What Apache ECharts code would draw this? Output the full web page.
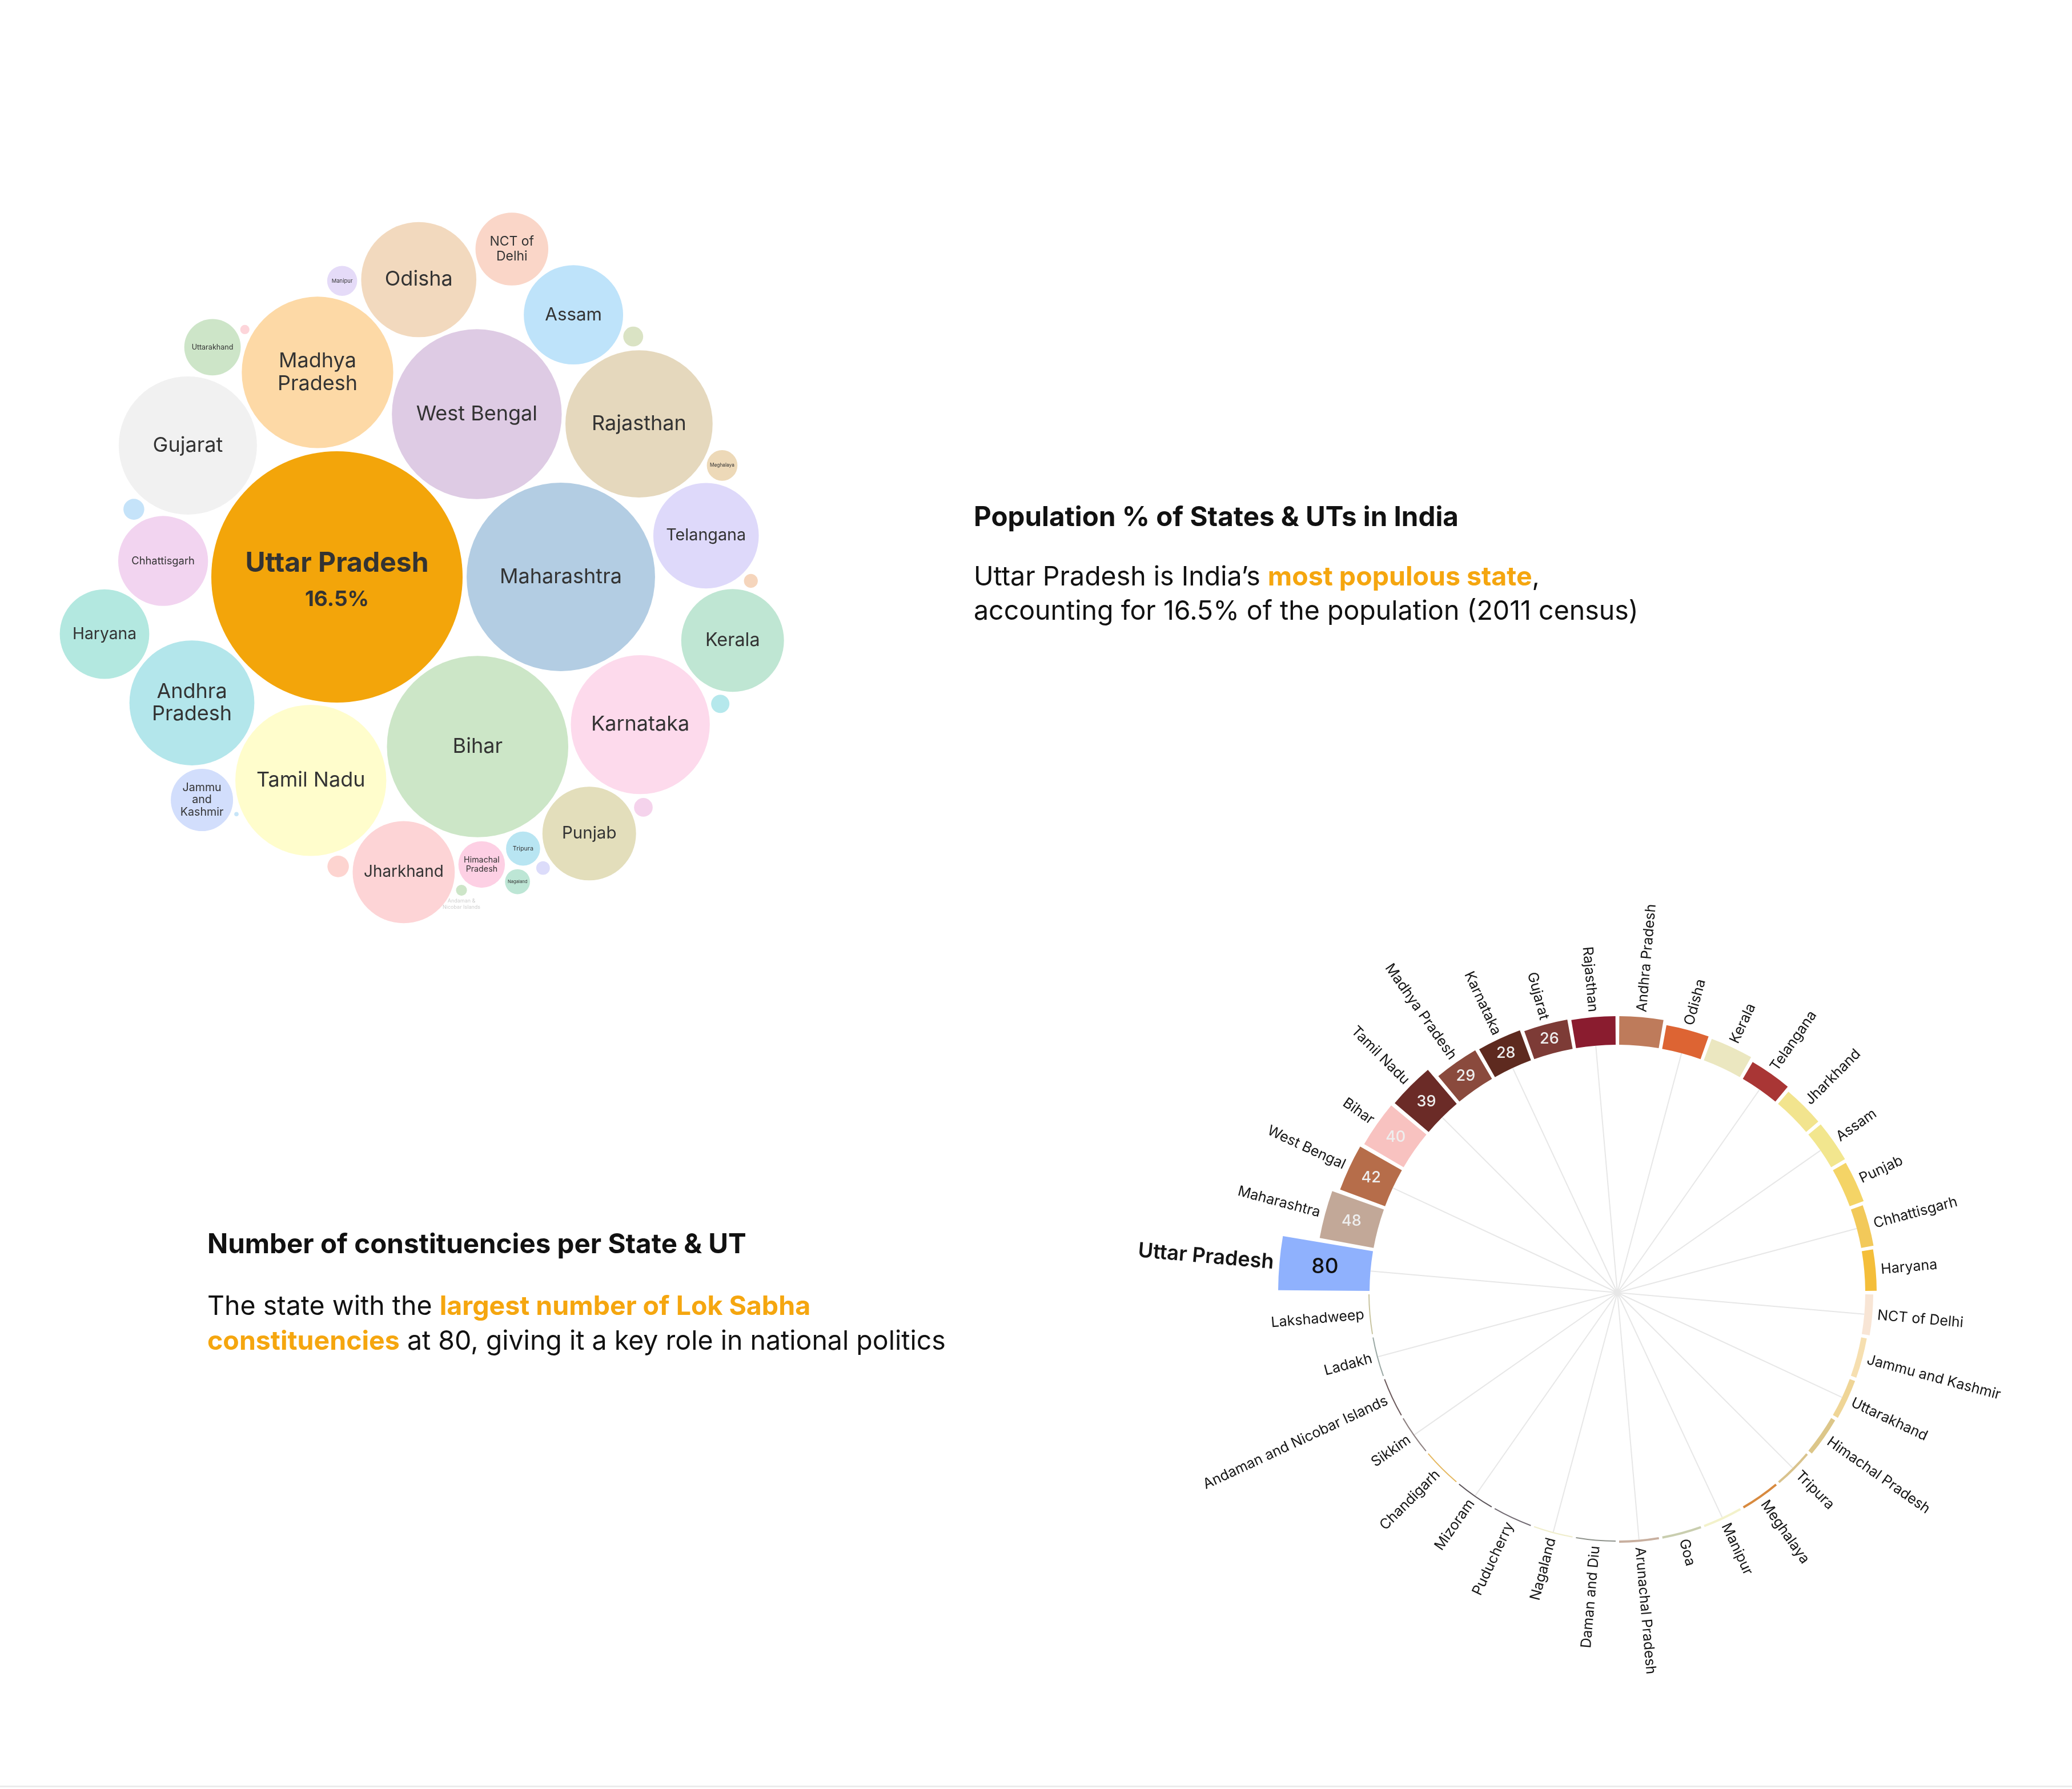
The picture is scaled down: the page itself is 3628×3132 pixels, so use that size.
<!DOCTYPE html>
<html>
<head>
<meta charset="utf-8">
<script src="https://cdn.jsdelivr.net/npm/echarts@6/dist/echarts.min.js"></script>
<style>
  html, body { margin: 0; padding: 0; background: #fff; }
  #chart { width: 3628px; height: 3132px; }
</style>
</head>
<body>
<div id="chart"></div>
<script>
// ---- bubble chart: population (2011 census, millions), sorted desc ----
const popStates = ['Uttar Pradesh', 'Maharashtra', 'Bihar', 'West Bengal', 'Madhya Pradesh', 'Tamil Nadu', 'Rajasthan', 'Karnataka', 'Gujarat', 'Andhra Pradesh', 'Odisha', 'Telangana', 'Kerala', 'Jharkhand', 'Assam', 'Punjab', 'Chhattisgarh', 'Haryana', 'NCT of Delhi', 'Jammu and Kashmir', 'Uttarakhand', 'Himachal Pradesh', 'Tripura', 'Meghalaya', 'Manipur', 'Nagaland', 'Goa', 'Arunachal Pradesh', 'Puducherry', 'Mizoram', 'Chandigarh', 'Sikkim', 'Dadra and Nagar Haveli and Daman and Diu', 'Andaman & Nicobar Islands', 'Ladakh', 'Lakshadweep'];
const popMillions = [199.81, 112.37, 104.10, 91.28, 72.63, 72.15, 68.55, 61.10, 60.44, 49.39, 41.97, 35.19, 33.41, 32.99, 31.21, 27.74, 25.55, 25.35, 16.79, 12.27, 10.09, 6.86, 3.67, 2.97, 2.86, 1.98, 1.46, 1.38, 1.25, 1.10, 1.06, 0.61, 0.59, 0.38, 0.27, 0.06];
// text shown inside each bubble ('' = no label)
const popLabels = ['Uttar Pradesh', 'Maharashtra', 'Bihar', 'West Bengal', 'Madhya\nPradesh', 'Tamil Nadu', 'Rajasthan', 'Karnataka', 'Gujarat', 'Andhra\nPradesh', 'Odisha', 'Telangana', 'Kerala', 'Jharkhand', 'Assam', 'Punjab', 'Chhattisgarh', 'Haryana', 'NCT of\nDelhi', 'Jammu\nand\nKashmir', 'Uttarakhand', 'Himachal\nPradesh', 'Tripura', 'Meghalaya', 'Manipur', 'Nagaland', '', '', '', '', '', '', '', 'Andaman &\nNicobar Islands', '', ''];
const popColors = ['#F3A50A', '#B3CDE3', '#CCE6C7', '#DECBE4', '#FDD9A6', '#FFFDCC', '#E5D8BD', '#FDDAEC', '#F1F1F1', '#B3E6EB', '#F2D9BE', '#DED9FA', '#BFE6D3', '#FDD4D6', '#BEE3FA', '#E3DEBB', '#F2D4F0', '#B3E8E0', '#FAD6C8', '#D2DEFC', '#CDE5C8', '#FDD0E4', '#B8E5F2', '#EDD9B8', '#E5DBF8', '#BDE6D5', '#FDD4D0', '#C5E3F9', '#DAE3C4', '#F5D3EC', '#B5E8EC', '#F5D5BC', '#DCDCFA', '#CDE5C8', '#FDD5DA', '#C7E5F8'];

// ---- radial bar: Lok Sabha seats ----
const seatStates = ['Uttar Pradesh', 'Maharashtra', 'West Bengal', 'Bihar', 'Tamil Nadu', 'Madhya Pradesh', 'Karnataka', 'Gujarat', 'Rajasthan', 'Andhra Pradesh', 'Odisha', 'Kerala', 'Telangana', 'Jharkhand', 'Assam', 'Punjab', 'Chhattisgarh', 'Haryana', 'NCT of Delhi', 'Jammu and Kashmir', 'Uttarakhand', 'Himachal Pradesh', 'Tripura', 'Meghalaya', 'Manipur', 'Goa', 'Arunachal Pradesh', 'Daman and Diu', 'Nagaland', 'Puducherry', 'Mizoram', 'Chandigarh', 'Sikkim', 'Andaman and Nicobar Islands', 'Ladakh', 'Lakshadweep'];
const seatCounts = [80, 48, 42, 40, 39, 29, 28, 26, 25, 25, 21, 20, 17, 14, 14, 13, 11, 10, 7, 5, 5, 4, 2, 2, 2, 2, 2, 1, 1, 1, 1, 1, 1, 1, 1, 1];
const seatColors = ['#8FB1FD', '#C2A898', '#B66D4A', '#F8C2C0', '#6B2B27', '#8A4A3D', '#5E2A1F', '#7D3B36', '#8A1C2F', '#BE7B5B', '#DD6433', '#EBE7C0', '#A93635', '#F2E48E', '#F2E68E', '#F4D466', '#F2C95A', '#F4BE3A', '#F8E5D5', '#F6DFB0', '#EFD596', '#DCC689', '#D9C38D', '#D88A3F', '#F3F2CB', '#C9CEAF', '#C8AF9F', '#8E928B', '#EFEDCB', '#716A72', '#5B5459', '#E5B860', '#8E8282', '#6C5A5C', '#9BA9A5', '#C9C5A1'];
const seatLabelCount = 8; // bars that show their number

const FONT = 'Inter, "DejaVu Sans", sans-serif';

// front-chain circle packing (same steps as d3.packSiblings)
function packPlace(b, a, c) {
  const dx = b.x - a.x, dy = b.y - a.y, d2 = dx * dx + dy * dy;
  let x, y, a2, b2;
  if (d2) {
    a2 = a.r + c.r; a2 *= a2;
    b2 = b.r + c.r; b2 *= b2;
    if (a2 > b2) {
      x = (d2 + b2 - a2) / (2 * d2);
      y = Math.sqrt(Math.max(0, b2 / d2 - x * x));
      c.x = b.x - x * dx - y * dy;
      c.y = b.y - x * dy + y * dx;
    } else {
      x = (d2 + a2 - b2) / (2 * d2);
      y = Math.sqrt(Math.max(0, a2 / d2 - x * x));
      c.x = a.x + x * dx - y * dy;
      c.y = a.y + x * dy + y * dx;
    }
  } else {
    c.x = a.x + c.r;
    c.y = a.y;
  }
}
function packIntersects(a, b) {
  const dr = a.r + b.r - 1e-6, dx = b.x - a.x, dy = b.y - a.y;
  return dr > 0 && dr * dr > dx * dx + dy * dy;
}
function packScore(node) {
  const a = node._, b = node.next._, ab = a.r + b.r;
  const dx = (a.x * b.r + b.x * a.r) / ab, dy = (a.y * b.r + b.y * a.r) / ab;
  return dx * dx + dy * dy;
}
function packSiblings(circles) {
  const n = circles.length;
  let a = circles[0], b, c;
  a.x = 0; a.y = 0;
  b = circles[1]; a.x = -b.r; b.x = a.r; b.y = 0;
  packPlace(b, a, c = circles[2]);
  a = { _: a }; b = { _: b }; c = { _: c };
  a.next = c.previous = b;
  b.next = a.previous = c;
  c.next = b.previous = a;
  pack: for (let i = 3; i < n; ++i) {
    packPlace(a._, b._, c = circles[i]); c = { _: c };
    let j = b.next, k = a.previous, sj = b._.r, sk = a._.r;
    do {
      if (sj <= sk) {
        if (packIntersects(j._, c._)) { b = j; a.next = b; b.previous = a; --i; continue pack; }
        sj += j._.r; j = j.next;
      } else {
        if (packIntersects(k._, c._)) { a = k; a.next = b; b.previous = a; --i; continue pack; }
        sk += k._.r; k = k.previous;
      }
    } while (j !== k.next);
    c.previous = a; c.next = b; a.next = b.previous = b = c;
    let aa = packScore(a), ca;
    while ((c = c.next) !== b) {
      if ((ca = packScore(c)) < aa) { a = c; aa = ca; }
    }
    b = a.next;
  }
}

const popTotal = popMillions.reduce((s, v) => s + v, 0);
const bubbleMaxR = 220, bubblePad = 3.5, bubbleCenter = [590, 1010];
const circles = popMillions
  .map((v, i) => ({ i, v, r: bubbleMaxR * Math.sqrt(v / popMillions[0]) + bubblePad }))
  .sort((p, q) => q.v - p.v);
packSiblings(circles);
const shiftX = bubbleCenter[0] - circles[0].x, shiftY = bubbleCenter[1] - circles[0].y;

const bubbleData = circles.map(c => {
  const i = c.i, r = c.r - bubblePad, txt = popLabels[i];
  const lines = txt.split('\n');
  const maxLen = Math.max(...lines.map(s => s.length));
  const fs = Math.min(36, 0.36 * r, 2.8 * r / Math.max(maxLen, 1));
  let label = { show: !!txt, fontSize: fs, lineHeight: fs * 1.1 };
  if (popStates[i] === 'Andaman & Nicobar Islands') {
    label = { show: true, position: 'bottom', distance: 4, fontSize: 9, lineHeight: 11, color: '#cfcfcf' };
  }
  if (i === 0) label = { show: true };
  return {
    name: popStates[i],
    value: [c.x + shiftX, c.y + shiftY],
    symbolSize: 2 * r,
    itemStyle: { color: popColors[i] },
    label
  };
});

const upShare = (popMillions[0] / popTotal * 100).toFixed(1) + '%';

// labels around the radial bar
function radialLabels(params, api) {
  const cs = params.coordSys;
  const i = params.dataIndex;
  const v = api.value(0);
  const end = api.coord([v, api.value(1)]);
  const dx = end[0] - cs.cx, dy = end[1] - cs.cy;
  const len = Math.sqrt(dx * dx + dy * dy);
  const ux = dx / len, uy = dy / len;
  const theta = Math.atan2(-dy, dx);
  const right = ux >= 0;
  const isTop = i === 0;
  const off = isTop ? 10 : 9;
  const children = [{
    type: 'text',
    x: end[0] + ux * off,
    y: end[1] + uy * off,
    rotation: right ? theta : theta - Math.PI,
    style: {
      text: seatStates[i],
      font: (isTop ? '600 36px ' : '400 25px ') + FONT,
      fill: '#151515',
      align: right ? 'left' : 'right',
      verticalAlign: 'middle'
    }
  }];
  if (i < seatLabelCount) {
    const mid = api.coord([v / 2, api.value(1)]);
    children.push({
      type: 'text',
      x: mid[0],
      y: mid[1],
      style: {
        text: String(v),
        font: (isTop ? '500 37px ' : '500 27px ') + FONT,
        fill: isTop ? '#111111' : '#eeeeee',
        align: 'center',
        verticalAlign: 'middle'
      }
    });
  }
  return { type: 'group', children };
}

const radialCenter = [2832, 2263];
const innerR = 434, outerR = 594;

const chart = echarts.init(document.getElementById('chart'));
chart.setOption({
  backgroundColor: '#ffffff',
  animation: false,
  grid: { left: 0, top: 0, width: 3628, height: 3132, show: false },
  xAxis: { type: 'value', min: 0, max: 3628, show: false },
  yAxis: { type: 'value', min: 0, max: 3132, inverse: true, show: false },
  polar: [
    { center: radialCenter, radius: [innerR, outerR] },
    { center: radialCenter, radius: [0, innerR] }
  ],
  angleAxis: [
    {
      polarIndex: 0, type: 'category', data: seatStates, startAngle: 180,
      axisLine: { show: false }, axisTick: { show: false }, axisLabel: { show: false }, splitLine: { show: false }
    },
    {
      polarIndex: 1, type: 'category', data: seatStates, startAngle: 175,
      axisLine: { show: false }, axisTick: { show: false }, axisLabel: { show: false },
      splitLine: { show: true, lineStyle: { color: '#e7e7e7', width: 2 } }
    }
  ],
  radiusAxis: [
    { polarIndex: 0, type: 'value', min: 0, max: 80, show: false, splitLine: { show: false } },
    { polarIndex: 1, type: 'value', min: 0, max: 1, show: false, splitLine: { show: false } }
  ],
  graphic: [
    {
      type: 'text', x: 1705, y: 907,
      style: { text: 'Population % of States & UTs in India', font: '700 47.5px ' + FONT, fill: '#111', verticalAlign: 'middle' }
    },
    {
      type: 'text', x: 1705, y: 981,
      style: {
        text: '{a|Uttar Pradesh is India’s }{b|most populous state}{a|,}\n{a|accounting for 16.5% of the population (2011 census)}',
        verticalAlign: 'top',
        rich: {
          a: { fontSize: 46.5, fontFamily: FONT, fill: '#111', lineHeight: 60 },
          b: { fontSize: 46.5, fontFamily: FONT, fontWeight: 700, fill: '#F5A60F', lineHeight: 60 }
        }
      }
    },
    {
      type: 'text', x: 363, y: 2180,
      style: { text: 'Number of constituencies per State & UT', font: '700 47.5px ' + FONT, fill: '#111', verticalAlign: 'middle' }
    },
    {
      type: 'text', x: 363, y: 2258,
      style: {
        text: '{a|The state with the }{b|largest number of Lok Sabha}\n{b|constituencies}{a| at 80, giving it a key role in national politics}',
        verticalAlign: 'top',
        rich: {
          a: { fontSize: 46.5, fontFamily: FONT, fill: '#111', lineHeight: 61 },
          b: { fontSize: 46.5, fontFamily: FONT, fontWeight: 700, fill: '#F5A60F', lineHeight: 61 }
        }
      }
    },
    { type: 'rect', shape: { x: 0, y: 3126, width: 3628, height: 3 }, style: { fill: '#ececec' } }
  ],
  series: [
    {
      type: 'scatter',
      symbol: 'circle',
      silent: true,
      itemStyle: { opacity: 1 },
      label: {
        show: true,
        position: 'inside',
        color: '#333333',
        fontFamily: FONT,
        formatter: p => p.dataIndex === 0 ? '{t|' + popLabels[0] + '}\n{p|' + upShare + '}' : popLabels[circles[p.dataIndex].i],
        rich: {
          t: { fontSize: 48, fontWeight: 700, color: '#333333', fontFamily: FONT, lineHeight: 80 },
          p: { fontSize: 37, fontWeight: 700, color: '#333333', fontFamily: FONT, lineHeight: 46 }
        }
      },
      data: bubbleData
    },
    {
      type: 'bar',
      coordinateSystem: 'polar',
      polarIndex: 0,
      barCategoryGap: '8%',
      silent: true,
      data: seatCounts.map((v, i) => ({ value: v, itemStyle: { color: seatColors[i] } }))
    },
    {
      type: 'custom',
      coordinateSystem: 'polar',
      polarIndex: 0,
      silent: true,
      z: 5,
      data: seatCounts.map((v, i) => [v, i]),
      renderItem: radialLabels
    }
  ]
});
</script>
</body>
</html>
